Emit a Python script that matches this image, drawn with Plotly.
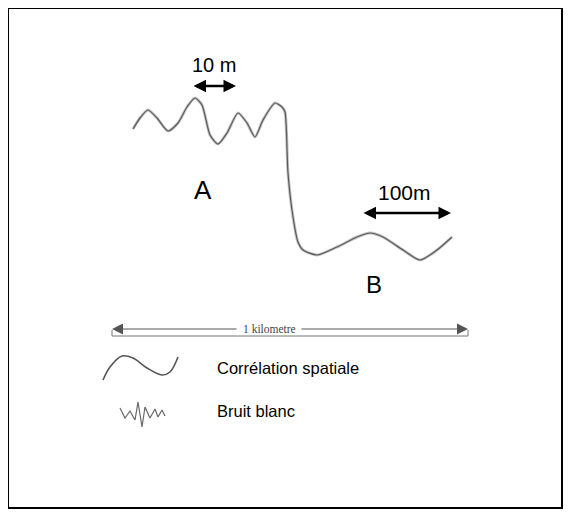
import plotly.graph_objects as go

# profil (coordonnees en pixels de la page)
profil_x = [133, 140, 148, 157, 168, 178, 187, 195, 202, 210, 218, 227, 238, 247, 255, 263, 275, 282,
            285, 288, 293, 298, 303, 317, 337, 357, 370, 383, 403, 420, 437, 452]
profil_y = [129, 118, 110, 118, 131, 123, 107, 98, 105, 135, 144, 133, 113, 123, 137, 120, 103, 107,
            112, 173, 217, 242, 250, 255, 247, 237, 233, 237, 250, 260, 250, 237]

# symboles de la legende
onde_x = [103, 110, 122, 133, 147, 162, 170, 178]
onde_y = [380, 367, 356, 358, 368, 375, 372, 357]
bruit_x = [120, 125, 130, 135, 138, 142, 145, 150, 155, 158, 162, 165]
bruit_y = [408, 418, 411, 420, 402, 427, 407, 418, 409, 417, 410, 416]

fig = go.Figure()

# trait flou (bruit blanc) sous la courbe
fig.add_trace(go.Scatter(x=profil_x, y=profil_y, mode="lines",
                         line=dict(color="#c4c4c4", width=3, shape="spline", smoothing=0.65), hoverinfo="skip"))
fig.add_trace(go.Scatter(x=profil_x, y=profil_y, mode="lines",
                         line=dict(color="#5a5a5a", width=1.2, shape="spline", smoothing=0.65), hoverinfo="skip"))
fig.add_trace(go.Scatter(x=onde_x, y=onde_y, mode="lines", line=dict(color="#555555", width=1.6, shape="spline"),
                         hoverinfo="skip"))
fig.add_trace(go.Scatter(x=bruit_x, y=bruit_y, mode="lines", line=dict(color="#666666", width=1.2),
                         hoverinfo="skip"))

# cadre
fig.add_shape(type="rect", x0=8, x1=562, y0=8, y1=508, line=dict(color="black", width=2))

# barre d'echelle 1 km
fig.add_shape(type="line", x0=112, x1=468, y0=336, y1=336, line=dict(color="#777777", width=1))
fig.add_shape(type="line", x0=112, x1=112, y0=330, y1=336, line=dict(color="#777777", width=1))
fig.add_shape(type="line", x0=468, x1=468, y0=330, y1=336, line=dict(color="#777777", width=1))

def fleche(x0, x1, y, couleur, largeur, taille, double=True):
    fig.add_annotation(x=x1, y=y, ax=x0, ay=y, xref="x", yref="y", axref="x", ayref="y",
                       text="", showarrow=True, arrowhead=2, arrowsize=taille, arrowwidth=largeur,
                       arrowcolor=couleur, arrowside="end+start" if double else "end")

fleche(192, 236, 86, "black", 2.5, 1.0)
fleche(362, 451, 213, "black", 2.5, 1.0)
fleche(238, 112, 329, "#555555", 1, 2.2, double=False)
fleche(300, 468, 329, "#555555", 1, 2.2, double=False)

police = "Liberation Sans, Arial, sans-serif"
textes = [
    (214, 65, "10 m", 20),
    (404, 192, "100m", 21),
    (203, 190, "A", 26),
    (374, 284, "B", 24),
]
for x, y, t, s in textes:
    fig.add_annotation(x=x, y=y, text=t, showarrow=False, font=dict(family=police, size=s, color="black"))

fig.add_annotation(x=269, y=329, text="1 kilometre", showarrow=False,
                   font=dict(family="Liberation Serif, Times New Roman, serif", size=11.5, color="#444444"))
fig.add_annotation(x=215, y=368, text="Corrélation spatiale", showarrow=False, xanchor="left",
                   font=dict(family=police, size=16.5, color="black"))
fig.add_annotation(x=215, y=411, text="Bruit blanc", showarrow=False, xanchor="left",
                   font=dict(family=police, size=16.5, color="black"))

# la page a une marge de 8 px : le graphique commence a (8, 8)
fig.update_xaxes(range=[8, 563], visible=False, fixedrange=True)
fig.update_yaxes(range=[511, 8], visible=False, fixedrange=True)
fig.update_layout(width=555, height=503, margin=dict(l=0, r=0, t=0, b=0), showlegend=False,
                  plot_bgcolor="white", paper_bgcolor="white")

fig.write_html("out.html")
